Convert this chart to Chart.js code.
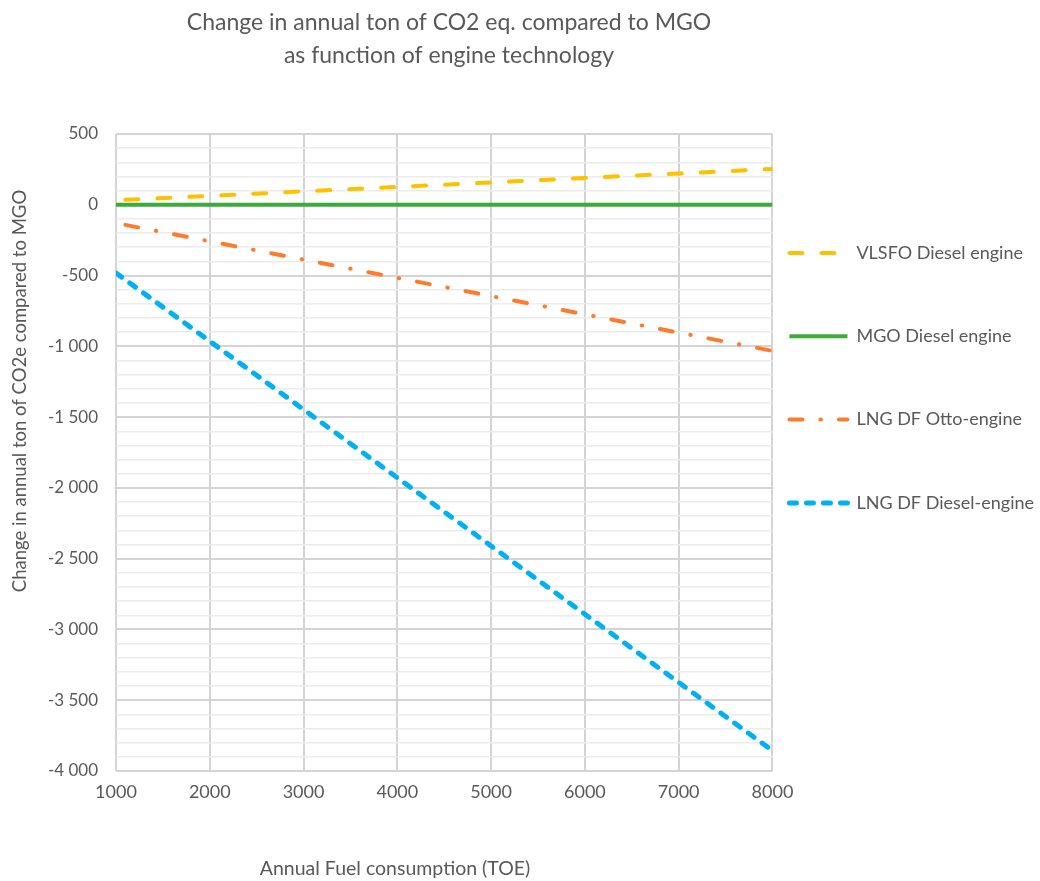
<!DOCTYPE html>
<html>
<head>
<meta charset="utf-8">
<script src="https://cdn.jsdelivr.net/npm/chart.js@4.4.1/dist/chart.umd.min.js"></script>
<style>
  html, body { margin: 0; padding: 0; background: #fff; }
  #wrap { width: 1040px; height: 881px; }
</style>
</head>
<body>
<div id="wrap"><canvas id="lineChart" width="1040" height="881"></canvas></div>
<script>
// Annual fuel consumption (TOE) at each plotted point
var fuelFull = [1000, 2000, 3000, 4000, 5000, 6000, 7000, 8000];
var fuelShort = [1100, 2000, 3000, 4000, 5000, 6000, 7000, 8000];

// Change in annual ton CO2e vs MGO
var vlsfoDiesel = [35, 63, 95, 126, 158, 190, 221, 253];
var mgoDiesel = [0, 0, 0, 0, 0, 0, 0, 0];
var lngOtto = [-142, -258, -387, -516, -645, -774, -903, -1032];
var lngDiesel = [-482, -964, -1446, -1928, -2410, -2892, -3374, -3856];

var seriesNames = ['VLSFO Diesel engine', 'MGO Diesel engine', 'LNG DF Otto-engine', 'LNG DF Diesel-engine'];
var titleLines = ['Change in annual ton of CO2 eq. compared to MGO', 'as function of engine technology'];
var yTitle = 'Change in annual ton of CO2e compared to MGO';
var xTitle = 'Annual Fuel consumption (TOE)';

var FONT = 'Lato, "Liberation Sans", sans-serif';
var TEXT = '#595959';

function pts(xs, ys) {
    return xs.map(function (x, i) { return { x: x, y: ys[i] }; });
}

function spaced(v) {
    return String(v).replace(/\B(?=(\d{3})+(?!\d))/g, ' ');
}

// titles drawn at the positions Excel used
var textPlugin = {
    id: 'chartTexts',
    afterDraw: function (chart) {
        var ctx = chart.ctx;
        ctx.save();
        ctx.fillStyle = TEXT;
        ctx.textAlign = 'center';
        ctx.textBaseline = 'middle';
        ctx.font = '23px ' + FONT;
        ctx.fillText(titleLines[0], 449, 23);
        ctx.fillText(titleLines[1], 449, 56);
        ctx.font = '19.5px ' + FONT;
        ctx.fillText(xTitle, 395, 869);
        ctx.font = '18.5px ' + FONT;
        ctx.translate(20, 391);
        ctx.rotate(-Math.PI / 2);
        ctx.fillText(yTitle, 0, 0);
        ctx.restore();
    }
};

var ctxLine = document.getElementById('lineChart').getContext('2d');
var lineChart = new Chart(ctxLine, {
    type: 'line',
    data: {
        datasets: [{
            label: seriesNames[0],
            data: pts(fuelShort, vlsfoDiesel),
            borderColor: '#FFC000',
            backgroundColor: '#FFC000',
            borderWidth: 4,
            borderDash: [13, 19],
            borderCapStyle: 'round'
        }, {
            label: seriesNames[1],
            data: pts(fuelFull, mgoDiesel),
            borderColor: '#3DAB3A',
            backgroundColor: '#3DAB3A',
            borderWidth: 4,
            borderCapStyle: 'butt'
        }, {
            label: seriesNames[2],
            data: pts(fuelShort, lngOtto),
            borderColor: '#FF7A2A',
            backgroundColor: '#FF7A2A',
            borderWidth: 4,
            borderDash: [13, 18, 0.5, 18],
            borderCapStyle: 'round'
        }, {
            label: seriesNames[3],
            data: pts(fuelFull, lngDiesel),
            borderColor: '#00B0F0',
            backgroundColor: '#00B0F0',
            borderWidth: 5,
            borderDash: [7, 10],
            borderCapStyle: 'round'
        }]
    },
    options: {
        responsive: false,
        animation: false,
        elements: { point: { radius: 0 }, line: { tension: 0 } },
        layout: { padding: { top: 134, right: -4, bottom: 0, left: 0 } },
        scales: {
            x: {
                type: 'linear',
                min: 1000,
                max: 8000,
                afterFit: function (s) { s.height = 110; },
                border: { display: false },
                grid: { color: '#d4d4d4', lineWidth: 2, drawTicks: false },
                ticks: {
                    stepSize: 1000,
                    padding: 10,
                    color: TEXT,
                    font: { family: FONT, size: 18 },
                    callback: function (v) { return String(v); }
                }
            },
            y: {
                min: -4000,
                max: 500,
                afterFit: function (s) { s.width = 116; },
                border: { display: false },
                grid: {
                    drawTicks: false,
                    color: function (c) { return c.tick && c.tick.value % 500 === 0 ? '#d4d4d4' : '#ececec'; },
                    lineWidth: function (c) { return c.tick && c.tick.value % 500 === 0 ? 2 : 1.5; }
                },
                ticks: {
                    stepSize: 100,
                    autoSkip: false,
                    padding: 18,
                    color: TEXT,
                    font: { family: FONT, size: 17 },
                    callback: function (v) { return v % 500 === 0 ? spaced(v) : ''; }
                }
            }
        },
        plugins: {
            title: { display: false },
            tooltip: { enabled: false },
            legend: {
                position: 'right',
                align: 'start',
                maxWidth: 320,
                title: { display: true, text: '', font: { size: 10, lineHeight: 1 }, padding: { top: 83, bottom: 0 } },
                labels: {
                    usePointStyle: true,
                    pointStyle: 'line',
                    pointStyleWidth: 58,
                    padding: 17,
                    color: TEXT,
                    font: { family: FONT, size: 18, lineHeight: 1.228 },
                    generateLabels: function (chart) {
                        var items = Chart.defaults.plugins.legend.labels.generateLabels(chart);
                        items.forEach(function (it) {
                            var ds = chart.data.datasets[it.datasetIndex];
                            it.lineDash = ds.borderDash || [];
                            it.lineCap = ds.borderCapStyle;
                            it.lineWidth = ds.borderWidth;
                            it.text = [it.text, '', ''];
                        });
                        return items;
                    }
                }
            }
        }
    },
    plugins: [textPlugin]
});
</script>
</body>
</html>
